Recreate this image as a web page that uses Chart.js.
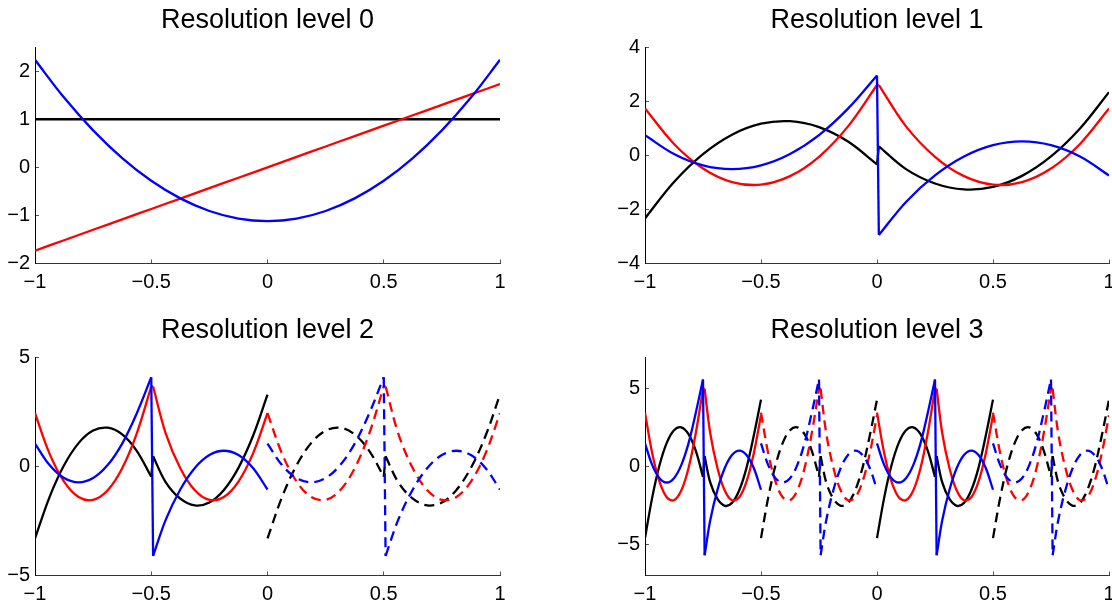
<!DOCTYPE html>
<html><head><meta charset="utf-8">
<script src="https://cdn.jsdelivr.net/npm/chart.js@4.4.1/dist/chart.umd.min.js"></script>
<style>
html,body{margin:0;padding:0;background:#fff;overflow:hidden;width:1112px;height:603px;position:relative}
canvas{position:absolute}
</style></head><body>
<canvas id="c0" width="556" height="300" style="left:0px;top:0px"></canvas>
<canvas id="c1" width="560" height="300" style="left:610px;top:0px"></canvas>
<canvas id="c2" width="556" height="303" style="left:0px;top:300px"></canvas>
<canvas id="c3" width="560" height="303" style="left:610px;top:300px"></canvas>
<script>
// ---- tick values and labels ----
const xTickValues = [-1, -0.5, 0, 0.5, 1];
const xTickLabels = ['\u22121', '\u22120.5', '0', '0.5', '1'];
const yTicks0 = [-2, -1, 0, 1, 2];
const yLabels0 = ['\u22122', '\u22121', '0', '1', '2'];
const yTicks1 = [-4, -2, 0, 2, 4];
const yLabels1 = ['\u22124', '\u22122', '0', '2', '4'];
const yTicks2 = [-5, 0, 5];
const yLabels2 = ['\u22125', '0', '5'];
const yTicks3 = [-5, 0, 5];
const yLabels3 = ['\u22125', '0', '5'];

// ---- Resolution level 0 ----
const x0 = [-1,-0.875,-0.75,-0.625,-0.5,-0.375,-0.25,-0.125,0,0.125,0.25,0.375,0.5,0.625,0.75,0.875,1];
const black0 = [1,1,1,1,1,1,1,1,1,1,1,1,1,1,1,1,1];
const red0 = [-1.732,-1.516,-1.299,-1.083,-0.866,-0.650,-0.433,-0.217,0,0.217,0.433,0.650,0.866,1.083,1.299,1.516,1.732];
const blue0 = [2.236,1.450,0.769,0.192,-0.280,-0.646,-0.908,-1.066,-1.118,-1.066,-0.908,-0.646,-0.280,0.192,0.769,1.450,2.236];

// ---- Resolution level 1 (each curve: 9 points left of the jump, 9 points right of it) ----
const x1 = [-1,-0.875,-0.75,-0.625,-0.5,-0.375,-0.25,-0.125,0,0.008,0.125,0.25,0.375,0.5,0.625,0.75,0.875,1];
const black1 = [-2.333,-0.990,0.042,0.760,1.167,1.260,1.042,0.510,-0.333,0.333,-0.510,-1.042,-1.260,-1.167,-0.760,-0.042,0.990,2.333];
const red1 = [1.732,0.420,-0.487,-0.988,-1.083,-0.771,-0.054,1.069,2.598,2.598,1.069,-0.054,-0.771,-1.083,-0.988,-0.487,0.420,1.732];
const blue1 = [0.745,0.047,-0.373,-0.512,-0.373,0.047,0.745,1.724,2.95,-2.95,-1.724,-0.745,-0.047,0.373,0.512,0.373,-0.047,-0.745];

// ---- Resolution level 2 (two translates: solid on [-1,0], dashed on [0,1]) ----
const x2a = [-1,-0.9375,-0.875,-0.8125,-0.75,-0.6875,-0.625,-0.5625,-0.5,-0.492,-0.4375,-0.375,-0.3125,-0.25,-0.1875,-0.125,-0.0625,0];
const x2b = [0,0.0625,0.125,0.1875,0.25,0.3125,0.375,0.4375,0.5,0.508,0.5625,0.625,0.6875,0.75,0.8125,0.875,0.9375,1];
const black2 = [-3.300,-1.400,0.059,1.075,1.650,1.782,1.473,0.722,-0.471,0.471,-0.722,-1.473,-1.782,-1.650,-1.075,-0.059,1.400,3.300];
const red2 = [2.449,0.593,-0.689,-1.397,-1.531,-1.091,-0.077,1.512,3.674,3.674,1.512,-0.077,-1.091,-1.531,-1.397,-0.689,0.593,2.449];
const blue2 = [1.054,0.066,-0.527,-0.725,-0.527,0.066,1.054,2.438,4.1,-4.1,-2.438,-1.054,-0.066,0.527,0.725,0.527,-0.066,-1.054];

// ---- Resolution level 3 (four translates: solid, dashed, solid, dashed) ----
const x3a = [-1,-0.96875,-0.9375,-0.90625,-0.875,-0.84375,-0.8125,-0.78125,-0.75,-0.743,-0.71875,-0.6875,-0.65625,-0.625,-0.59375,-0.5625,-0.53125,-0.5];
const x3b = [-0.5,-0.46875,-0.4375,-0.40625,-0.375,-0.34375,-0.3125,-0.28125,-0.25,-0.243,-0.21875,-0.1875,-0.15625,-0.125,-0.09375,-0.0625,-0.03125,0];
const x3c = [0,0.03125,0.0625,0.09375,0.125,0.15625,0.1875,0.21875,0.25,0.257,0.28125,0.3125,0.34375,0.375,0.40625,0.4375,0.46875,0.5];
const x3d = [0.5,0.53125,0.5625,0.59375,0.625,0.65625,0.6875,0.71875,0.75,0.757,0.78125,0.8125,0.84375,0.875,0.90625,0.9375,0.96875,1];
const black3 = [-4.6,-1.979,0.083,1.521,2.333,2.521,2.083,1.021,-0.667,0.667,-1.021,-2.083,-2.521,-2.333,-1.521,-0.083,1.979,4.3];
const red3 = [3.464,0.839,-0.974,-1.976,-2.165,-1.543,-0.108,2.138,5.0,5.0,2.138,-0.108,-1.543,-2.165,-1.976,-0.974,0.839,3.3];
const blue3 = [1.491,0.093,-0.745,-1.025,-0.745,0.093,1.491,3.447,5.6,-5.7,-3.447,-1.491,-0.093,0.745,1.025,0.745,-0.093,-1.491];

const BLACK = '#000000', RED = '#ff0000', BLUE = '#0000ff';
const FONT = "'Liberation Sans', Arial, Helvetica, sans-serif";
const LW = 2.3;
const DASH = [10, 6];
Chart.defaults.font.family = FONT;

function pts(x, y, a, b) {
  const out = [];
  for (let i = a; i < b; i++) out.push({x: x[i], y: y[i]});
  return out;
}
function ds(data, color, dashed, tension) {
  return {
    data, borderColor: color, borderWidth: LW,
    borderDash: dashed ? DASH : [],
    borderJoinStyle: 'round', borderCapStyle: 'butt',
    pointRadius: 0, tension, fill: false
  };
}
// a whole smooth curve (level 0)
function smooth(x, ys, colors) {
  return ys.map((y, k) => [ds(pts(x, y, 0, x.length), colors[k], false, 0.35)]);
}
// piecewise curve with a jump in the middle: left piece, jump, right piece
function pieces(x, ys, dashed) {
  const colors = [BLACK, RED, BLUE];
  return ys.map((y, k) => {
    const h = x.length / 2;
    return [
      ds(pts(x, y, 0, h), colors[k], dashed, 0.35),
      ds(pts(x, y, h - 1, h + 1), colors[k], dashed, 0),
      ds(pts(x, y, h, x.length), colors[k], dashed, 0.35)
    ];
  });
}

function makeChart(id, title, groups, yMin, yMax, yTicks, yLabels, row, padRight) {
  // later groups drawn on top (first dataset in Chart.js is drawn last)
  const datasets = [].concat(...groups.map(g => [].concat(...g))).reverse();
  const top = row === 0;
  const tickFont = {size: 20, family: FONT};
  new Chart(document.getElementById(id), {
    type: 'line',
    data: {datasets},
    options: {
      responsive: false,
      animation: false,
      events: [],
      layout: {padding: {left: 0, right: padRight, top: 0, bottom: top ? 6.5 : 0}},
      plugins: {
        legend: {display: false},
        tooltip: {enabled: false},
        title: {
          display: true, text: title, color: '#000', fullSize: false,
          font: {size: 27, weight: 'normal', family: FONT},
          padding: top ? {top: 4.3, bottom: 10.4} : {top: 14.8, bottom: 10.4}
        }
      },
      scales: {
        x: {
          type: 'linear', position: 'bottom', min: -1, max: 1,
          afterBuildTicks: s => { s.ticks = xTickValues.map(v => ({value: v})); },
          afterFit: s => { s.height = top ? 30 : 27.5; },
          ticks: {
            padding: 10.5, maxRotation: 0, autoSkip: false, color: '#000',
            font: tickFont,
            callback: v => xTickLabels[xTickValues.indexOf(v)]
          },
          grid: {display: true, drawOnChartArea: false, drawTicks: true, tickLength: -4, tickColor: '#555', tickWidth: 1},
          border: {display: true, color: '#333', width: 1}
        },
        y: {
          type: 'linear', position: 'left', min: yMin, max: yMax,
          afterBuildTicks: s => { s.ticks = yTicks.map(v => ({value: v})); },
          afterFit: s => { s.width = 35; },
          ticks: {
            padding: 9, autoSkip: false, color: '#000',
            font: tickFont,
            callback: v => yLabels[yTicks.indexOf(v)]
          },
          grid: {display: true, drawOnChartArea: false, drawTicks: true, tickLength: -4, tickColor: '#555', tickWidth: 1},
          border: {display: true, color: '#000', width: 1}
        }
      }
    }
  });
}

makeChart('c0', 'Resolution level 0',
  [smooth(x0, [black0, red0, blue0], [BLACK, RED, BLUE])],
  -2, 2.5, yTicks0, yLabels0, 0, 56);

makeChart('c1', 'Resolution level 1',
  [pieces(x1, [black1, red1, blue1], false)],
  -4, 4, yTicks1, yLabels1, 0, 61);

makeChart('c2', 'Resolution level 2',
  [pieces(x2a, [black2, red2, blue2], false),
   pieces(x2b, [black2, red2, blue2], true)],
  -5, 5, yTicks2, yLabels2, 1, 56);

makeChart('c3', 'Resolution level 3',
  [pieces(x3a, [black3, red3, blue3], false),
   pieces(x3b, [black3, red3, blue3], true),
   pieces(x3c, [black3, red3, blue3], false),
   pieces(x3d, [black3, red3, blue3], true)],
  -7, 7, yTicks3, yLabels3, 1, 61);
</script>
</body></html>
